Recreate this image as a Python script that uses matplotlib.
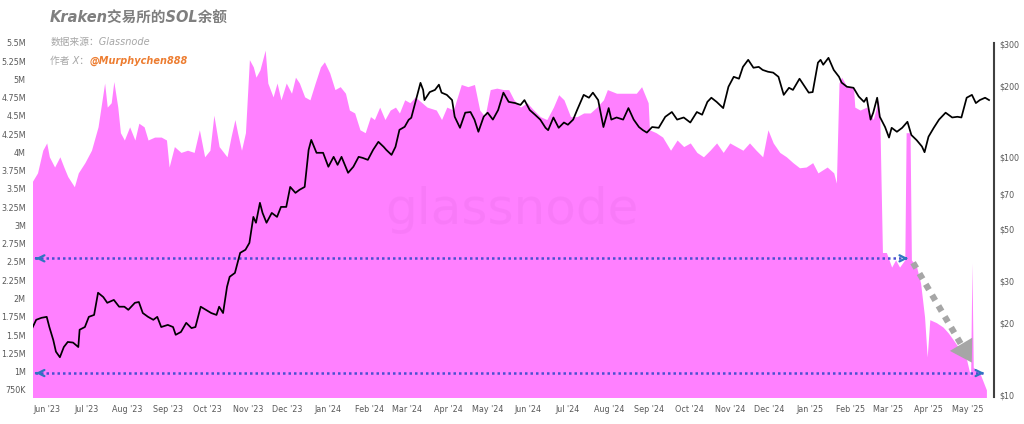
import matplotlib

matplotlib.use("Agg")
import matplotlib.dates as mdates
import matplotlib.pyplot as plt
import pandas as pd
from matplotlib.ticker import FixedLocator, FuncFormatter, NullLocator

# day offsets from 2023-06-01
BASE = pd.Timestamp("2023-06-01")

bal_day = [
    -11, -7, -3, 0, 2, 6, 10, 13, 16, 21, 24, 29, 34, 39, 44, 46, 49, 51, 54, 56,
    59, 63, 67, 70, 74, 77, 82, 87, 91, 93, 97, 102, 107, 112, 116, 120, 124, 127, 131,
    137, 140, 143, 145, 148, 151, 154, 157, 159, 162, 166, 168, 172, 175, 178, 182,
    186, 189, 192, 196, 200, 204, 208, 211, 215, 219, 223, 227, 230, 234, 238, 242,
    246, 249, 253, 257, 261, 265, 268, 272, 276, 280,
    289, 296, 300, 304, 309, 315, 320, 325, 329, 333, 337, 342, 347, 351, 355, 360,
    365, 370, 375, 380, 385, 389, 393, 398, 403, 408, 413, 418, 423,
    426, 433, 441, 448, 452, 457, 458, 463, 468, 474, 479, 484, 489, 494, 499, 504,
    509, 514, 519, 524, 529, 534, 539, 544, 548, 552, 557, 562, 567, 572, 577, 582, 586,
    593, 598, 600, 602, 604, 608, 613, 614, 618, 623, 628, 632, 633, 635, 638, 642,
    645, 648, 652, 653, 656, 657, 661, 664, 667, 669, 671, 676, 681, 685, 689, 694,
    699, 702, 703, 704, 709, 714,
]
# SOL balance on Kraken, millions
bal_m = [
    3.60, 3.72, 4.03, 4.13, 3.94, 3.80, 3.94, 3.80, 3.67, 3.53, 3.72, 3.86, 4.03, 4.35,
    4.95, 4.62, 4.68, 4.97, 4.62, 4.27, 4.17, 4.35, 4.17, 4.40, 4.35, 4.17, 4.21, 4.21,
    4.17, 3.80, 4.08, 4.00, 4.03, 4.00, 4.31, 3.94, 4.03, 4.51, 4.08,
    3.94, 4.21, 4.45, 4.27, 4.03, 4.27, 5.27, 5.17, 5.03, 5.13, 5.40, 4.95, 4.76, 4.95,
    4.72, 4.95, 4.81, 5.03, 4.95, 4.76, 4.72, 4.95, 5.17, 5.24, 5.09, 4.86, 4.90, 4.81,
    4.58, 4.54, 4.31, 4.27, 4.49, 4.45, 4.62, 4.45, 4.58, 4.62, 4.54, 4.72, 4.68, 4.76,
    4.62, 4.58, 4.45, 4.62, 4.58, 4.93, 4.90, 4.93, 4.58, 4.49, 4.86, 4.88, 4.86, 4.86,
    4.72, 4.62, 4.68, 4.58, 4.49, 4.45, 4.62, 4.79, 4.72, 4.49, 4.49, 4.54, 4.54, 4.62, 4.72,
    4.86, 4.81, 4.81, 4.81, 4.90, 4.68, 4.31, 4.27, 4.21, 4.03, 4.17, 4.08, 4.13, 4.00,
    3.94, 4.03, 4.13, 4.00, 4.13, 4.08, 4.03, 4.13, 4.03, 3.94, 4.31, 4.13, 4.00, 3.94,
    3.86, 3.79, 3.80, 3.86, 3.72,
    3.80, 3.72, 3.58, 4.95, 5.03, 4.90, 4.90, 4.62, 4.58, 4.62, 4.45, 4.72, 4.49, 2.63,
    2.63, 2.43, 2.53, 2.43, 2.53, 4.27, 4.27, 2.53, 2.43, 2.21, 1.75, 1.20, 1.71, 1.67,
    1.61, 1.53, 1.43, 1.30, 1.16, 0.93, 2.49, 1.06, 0.98, 0.75,
]

price_day = [
    -11, -8, -4, 0, 2, 5, 7, 10, 13, 16, 20, 24, 25, 29, 32, 36, 39, 43, 46, 51,
    55, 59, 62, 67, 70, 73, 77, 81, 84, 87, 92, 96, 98, 102, 106, 110, 113, 117, 121, 125,
    129, 131, 134,
    137, 139, 143, 147, 151, 154, 157, 159, 162, 164, 167, 171, 175, 178, 182, 185, 189,
    192, 196, 199, 201, 205, 210, 214, 218, 221, 224, 229, 233, 237, 240, 244, 248, 252,
    256, 258, 262, 265, 268, 272, 275, 277, 280, 284,
    286, 287, 291, 295, 298, 300, 304, 308, 310, 314, 318, 322, 325, 328, 332, 335, 339,
    343, 347, 351, 356, 360, 363, 367, 371, 375, 379, 381, 385, 389, 393, 396, 400, 403,
    408, 412, 415, 419, 423, 427,
    429, 433, 438, 442, 446, 450, 453, 456, 460, 465, 470, 475, 479, 484, 489, 494, 498,
    502, 505, 509, 514, 518, 522, 526, 529, 533, 537, 541, 544, 548, 552, 556, 560, 564,
    567, 572, 576, 579, 582, 586,
    588, 590, 594, 598, 602, 604, 608, 613, 617, 621, 623, 626, 628, 631, 633, 637, 640,
    642, 646, 650, 654, 657, 661, 665, 667, 670, 674, 678, 683, 688, 692, 695, 699, 703,
    706, 709, 713, 716,
]
# SOL price, USD
price_usd = [
    19.1, 20.7, 21.1, 21.3, 19.3, 17.0, 15.2, 14.4, 15.9, 16.7, 16.6, 15.9, 18.8, 19.3,
    21.3, 21.7, 26.9, 25.8, 24.4, 25.1, 23.5, 23.5, 22.8, 24.4, 24.6, 22.1, 21.3, 20.7,
    21.3, 19.3, 19.7, 19.3, 17.9, 18.4, 20.1, 19.1, 19.3, 23.5, 22.8, 22.1, 21.7, 23.5, 22.1,
    28.5, 31.4, 32.6, 39.6, 40.8, 43.6, 56.1, 53.0, 64.3, 58.3, 53.0, 58.3, 56.1, 61.8,
    61.8, 75.0, 70.8, 72.9, 75.0, 107.4, 118.3, 104.4, 104.4, 91.2, 100.4, 92.9, 100.4,
    86.0, 91.2, 100.4, 99.4, 97.5, 107.4, 116.1, 110.6, 107.4, 102.3, 110.6, 130.4, 134.3,
    143.7, 146.6, 169.4, 205.6,
    192, 174, 188, 192, 202, 187, 183, 174, 148, 133, 154, 155, 144, 128, 148, 154, 144,
    158, 187, 171, 169, 166, 174, 158, 151, 144, 133, 130, 147, 133, 140, 137, 144, 158,
    183, 178, 187, 174, 134, 161,
    144, 147, 144, 161, 144, 134, 130, 127, 134, 133, 148, 155, 144, 147, 140, 155, 151,
    171, 178, 171, 161, 198, 218, 214, 240, 257, 238, 240, 233, 229, 227, 218, 183, 196,
    192, 214, 198, 187, 188, 250,
    257, 245, 262, 233, 218, 206, 198, 196, 180, 171, 178, 144, 154, 178, 148, 134, 121,
    133, 128, 133, 141, 124, 118, 111, 105, 122, 133, 144, 154, 147, 148, 147, 178, 183,
    169, 174, 178, 174,
]

left_ticks_m = [0.75, 1, 1.25, 1.5, 1.75, 2, 2.25, 2.5, 2.75, 3, 3.25, 3.5, 3.75, 4,
                4.25, 4.5, 4.75, 5, 5.25, 5.5]
right_ticks = [10, 20, 30, 50, 70, 100, 200, 300]

# annotation levels (millions) and day offsets
upper_level, lower_level = 2.55, 0.98
upper_end, lower_end = 654.5, 712.3
trend_from, trend_to = (658.3, 2.49), (704.0, 1.09)

PINK = "#FF80FF"
GREY_TXT = "#595959"


def day(d):
    return BASE + pd.Timedelta(days=d)


def fmt_m(v, _):
    m = v / 1e6
    if m < 1:
        return f"{m * 1000:.0f}K"
    return f"{m:g}M"


fig = plt.figure(figsize=(10.24, 4.24), dpi=100)
ax = fig.add_axes((0.032, 0.064, 0.939, 0.835))

bal_x = [day(d) for d in bal_day]
bal_y = [v * 1e6 for v in bal_m]
ax.fill_between(bal_x, 0, bal_y, color=PINK, lw=0, zorder=1)

ax.set_xlim(day(-10.6), day(720))
ax.set_ylim(0.654e6, 5.5e6)
ax.yaxis.set_major_locator(FixedLocator([v * 1e6 for v in left_ticks_m]))
ax.yaxis.set_major_formatter(FuncFormatter(fmt_m))
ax.xaxis.set_major_locator(mdates.MonthLocator())
ax.xaxis.set_major_formatter(mdates.DateFormatter("%b '%y"))
ax.tick_params(axis="both", length=0, labelsize=5.8, labelcolor=GREY_TXT)
ax.tick_params(axis="y", pad=5)
ax.tick_params(axis="x", pad=6)
for s in ax.spines.values():
    s.set_visible(False)

ax.text(0.498, 0.528, "glassnode", transform=ax.transAxes, ha="center",
        va="center", fontsize=36, color="#b040b0", alpha=0.08, zorder=2)

# blue dotted reference levels with chevrons at both ends
for lvl, x_end in ((upper_level, upper_end), (lower_level, lower_end)):
    y = lvl * 1e6
    ax.plot([day(-9), day(x_end - 1)], [y, y], ls=(0, (1, 1.2)), lw=1.8,
            color="#4a50d0", zorder=3)
    for tip, tail in ((-10.4, -6), (x_end, x_end - 4)):
        ax.annotate("", xy=(day(tip), y), xytext=(day(tail), y),
                    arrowprops=dict(arrowstyle="->", color="#2f75c0", lw=1.6,
                                    mutation_scale=11), zorder=4)

# grey dashed trend arrow
(d0, m0), (d1, m1) = trend_from, trend_to
dm, mm = d0 + 0.82 * (d1 - d0), m0 + 0.82 * (m1 - m0)
ax.plot([day(d0), day(dm)], [m0 * 1e6, mm * 1e6], ls=(0, (1, 1)), lw=4.5,
        color="#a6a6a6", solid_capstyle="butt", zorder=4)
ax.annotate("", xy=(day(d1), m1 * 1e6), xytext=(day(dm), mm * 1e6),
            arrowprops=dict(arrowstyle="-|>,head_length=0.9,head_width=0.55",
                            color="#a6a6a6", lw=0, mutation_scale=17), zorder=4)

ax2 = ax.twinx()
ax2.plot([day(d) for d in price_day], price_usd, color="black", lw=1.25, zorder=5)
ax2.set_yscale("log")
ax2.set_ylim(9.81, 303)
ax2.yaxis.set_major_locator(FixedLocator(right_ticks))
ax2.yaxis.set_minor_locator(NullLocator())
ax2.yaxis.set_major_formatter(FuncFormatter(lambda v, _: f"${v:g}"))
ax2.tick_params(axis="y", length=0, pad=4, labelsize=5.8, labelcolor=GREY_TXT)
for name, s in ax2.spines.items():
    s.set_visible(name == "right")
ax2.spines["right"].set_color("#404040")
ax2.spines["right"].set_linewidth(1.5)

fam = ["DejaVu Sans", "Noto Sans CJK SC"]
fig.text(0.049, 0.957, "Kraken交易所的SOL余额", fontsize=10.5, fontweight="bold",
         style="italic", color="#7f7f7f", va="center", family=fam)
fig.text(0.049, 0.901, "数据来源：Glassnode", fontsize=7, style="italic",
         color="#a6a6a6", va="center", family=fam)
fig.text(0.049, 0.856, "作者 X：", fontsize=7, style="italic", color="#a6a6a6",
         va="center", family=fam)
fig.text(0.087, 0.856, "@Murphychen888", fontsize=7, fontweight="bold",
         style="italic", color="#ED7D31", va="center", family=fam)

fig.savefig("out.png", dpi=100)
